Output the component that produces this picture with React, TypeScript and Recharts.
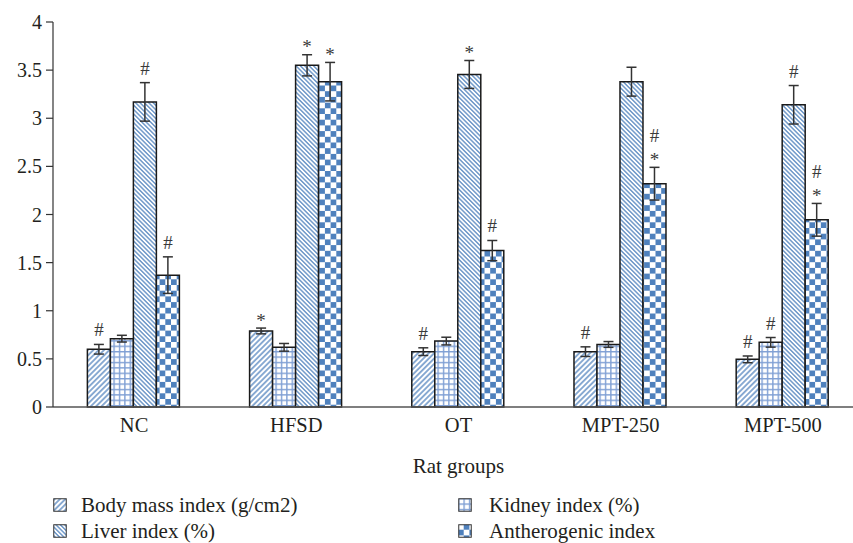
import { BarChart, Bar, XAxis, YAxis, ErrorBar, LabelList, Legend, Label } from 'recharts';

const groups = ['NC', 'HFSD', 'OT', 'MPT-250', 'MPT-500'];

const bmi = [0.6, 0.79, 0.575, 0.575, 0.495];
const bmiErr = [0.05, 0.03, 0.04, 0.05, 0.035];
const bmiNote = ['#', '*', '#', '#', '#'];

const kidney = [0.71, 0.62, 0.685, 0.65, 0.672];
const kidneyErr = [0.035, 0.04, 0.04, 0.03, 0.05];
const kidneyNote = ['', '', '', '', '#'];

const liver = [3.17, 3.55, 3.455, 3.38, 3.14];
const liverErr = [0.2, 0.11, 0.145, 0.15, 0.2];
const liverNote = ['#', '*', '*', '', '#'];

const anth = [1.37, 3.38, 1.625, 2.32, 1.945];
const anthErr = [0.19, 0.2, 0.105, 0.17, 0.17];
const anthNote = ['#', '*', '#', '#\n*', '#\n*'];

const yTicks = [0, 0.5, 1, 1.5, 2, 2.5, 3, 3.5, 4];

const FONT = 'Liberation Serif, DejaVu Serif, serif';
const INK = '#231f20';
const BLUE = '#4f81bd';

const table = groups.map((g, i) => ({
  group: g,
  bmi: bmi[i],
  bmiErr: bmiErr[i],
  kidney: kidney[i],
  kidneyErr: kidneyErr[i],
  liver: liver[i],
  liverErr: liverErr[i],
  anth: anth[i],
  anthErr: anthErr[i],
}));

const series = [
  { key: 'bmi', name: 'Body mass index (g/cm2)', fill: 'url(#pBmi)', errs: bmiErr, notes: bmiNote },
  { key: 'kidney', name: 'Kidney index (%)', fill: 'url(#pKidney)', errs: kidneyErr, notes: kidneyNote },
  { key: 'liver', name: 'Liver index (%)', fill: 'url(#pLiver)', errs: liverErr, notes: liverNote },
  { key: 'anth', name: 'Antherogenic index', fill: 'url(#pAnth)', errs: anthErr, notes: anthNote },
];

// significance marks sit just above the error bar cap
const noteLabel = (key: string, errs: number[], notes: string[]) => (props: any) => {
  const vb = props.viewBox || {};
  const x = props.x ?? vb.x;
  const y = props.y ?? vb.y;
  const width = props.width ?? vb.width;
  const height = props.height ?? vb.height;
  const i = props.index;
  if (i == null || !notes[i]) return null;
  const v = (table[i] as any)[key];
  const pxPerUnit = height / v;
  const top = y - errs[i] * pxPerUnit;
  const lines = notes[i].split('\n').filter(Boolean).reverse();
  let cursor = top;
  return (
    <g>
      {lines.map((ch, k) => {
        const base = cursor - (ch === '*' ? 1.5 : 8);
        cursor -= 17;
        return (
          <text key={k} x={x + width / 2} y={base} textAnchor="middle" fontSize={19} fontFamily={FONT} fill="#3a3a3a">
            {ch}
          </text>
        );
      })}
    </g>
  );
};

const renderLegend = () => (
  <div style={{ position: 'relative', width: 853, height: 50, fontFamily: FONT, fontSize: 21, color: INK }}>
    {series.map((s, i) => (
      <div
        key={s.key}
        style={{
          position: 'absolute',
          left: i % 2 === 0 ? 53 : 458,
          top: Math.floor(i / 2) * 26,
          height: 24,
          lineHeight: '24px',
          display: 'flex',
          alignItems: 'center',
          whiteSpace: 'nowrap',
        }}
      >
        <svg width={14} height={14} style={{ display: 'block' }}>
          <rect x={0.75} y={0.75} width={12.5} height={12.5} fill={s.fill} stroke="#333" strokeWidth={1} />
        </svg>
        <span style={{ marginLeft: i % 2 === 0 ? 14 : 17 }}>{s.name}</span>
      </div>
    ))}
  </div>
);

export default function App() {
  return (
    <div style={{ position: 'absolute', left: 0, top: 0, width: 853, height: 543, overflow: 'hidden', background: '#fff', fontFamily: FONT }}>
      <BarChart
        width={870}
        height={543}
        data={table}
        margin={{ top: 22, right: 6, left: 0, bottom: 0 }}
        barGap={0}
        barCategoryGap="21.2%"
        style={{ fontFamily: FONT }}
      >
        <defs>
          <pattern id="pBmi" patternUnits="userSpaceOnUse" width={3.8} height={3.8} patternTransform="rotate(45)">
            <rect width={3.8} height={3.8} fill="#fff" />
            <line x1={1.9} y1={0} x2={1.9} y2={3.8} stroke={BLUE} strokeWidth={1.3} />
          </pattern>
          <pattern id="pLiver" patternUnits="userSpaceOnUse" width={3.1} height={3.1} patternTransform="rotate(-45)">
            <rect width={3.1} height={3.1} fill="#fff" />
            <line x1={1.55} y1={0} x2={1.55} y2={3.1} stroke={BLUE} strokeWidth={1.2} />
          </pattern>
          <pattern id="pKidney" patternUnits="userSpaceOnUse" width={5.4} height={5.4}>
            <rect width={5.4} height={5.4} fill="#fff" />
            <line x1={0.7} y1={0} x2={0.7} y2={5.4} stroke="#7f9fd4" strokeWidth={1.4} />
            <line x1={0} y1={0.7} x2={5.4} y2={0.7} stroke="#7f9fd4" strokeWidth={1.4} />
          </pattern>
          <pattern id="pAnth" patternUnits="userSpaceOnUse" width={11.4} height={11.4}>
            <rect width={11.4} height={11.4} fill={BLUE} />
            <rect x={0} y={0} width={5.7} height={5.7} fill="#fff" />
            <rect x={5.7} y={5.7} width={5.7} height={5.7} fill="#fff" />
          </pattern>
        </defs>
        <XAxis
          dataKey="group"
          height={136}
          interval={0}
          tickLine={false}
          tickSize={0}
          tickMargin={10}
          axisLine={{ stroke: '#555', strokeWidth: 1.5 }}
          tick={{ fill: INK, fontSize: 20.5, fontFamily: FONT }}
        >
          <Label value="Rat groups" position="insideTop" offset={51} fill={INK} fontSize={21} fontFamily={FONT} />
        </XAxis>
        <YAxis
          width={53}
          domain={[0, 4]}
          ticks={yTicks}
          interval={0}
          tickSize={7}
          tickMargin={4}
          axisLine={{ stroke: '#333', strokeWidth: 1.2 }}
          tickLine={{ stroke: '#333', strokeWidth: 1.2 }}
          tick={{ fill: INK, fontSize: 20, fontFamily: FONT }}
        />
        <Legend
          layout="horizontal"
          verticalAlign="middle"
          align="center"
          wrapperStyle={{ top: 493, left: 0, width: 853, height: 50 }}
          content={renderLegend}
        />
        {series.map(s => (
          <Bar
            key={s.key}
            dataKey={s.key}
            name={s.name}
            fill={s.fill}
            stroke="#1a1a1a"
            strokeWidth={1.5}
            isAnimationActive={false}
          >
            <ErrorBar dataKey={`${s.key}Err`} width={5} stroke="#333" strokeWidth={1.5} />
            <LabelList dataKey={s.key} content={noteLabel(s.key, s.errs, s.notes)} />
          </Bar>
        ))}
      </BarChart>
    </div>
  );
}
